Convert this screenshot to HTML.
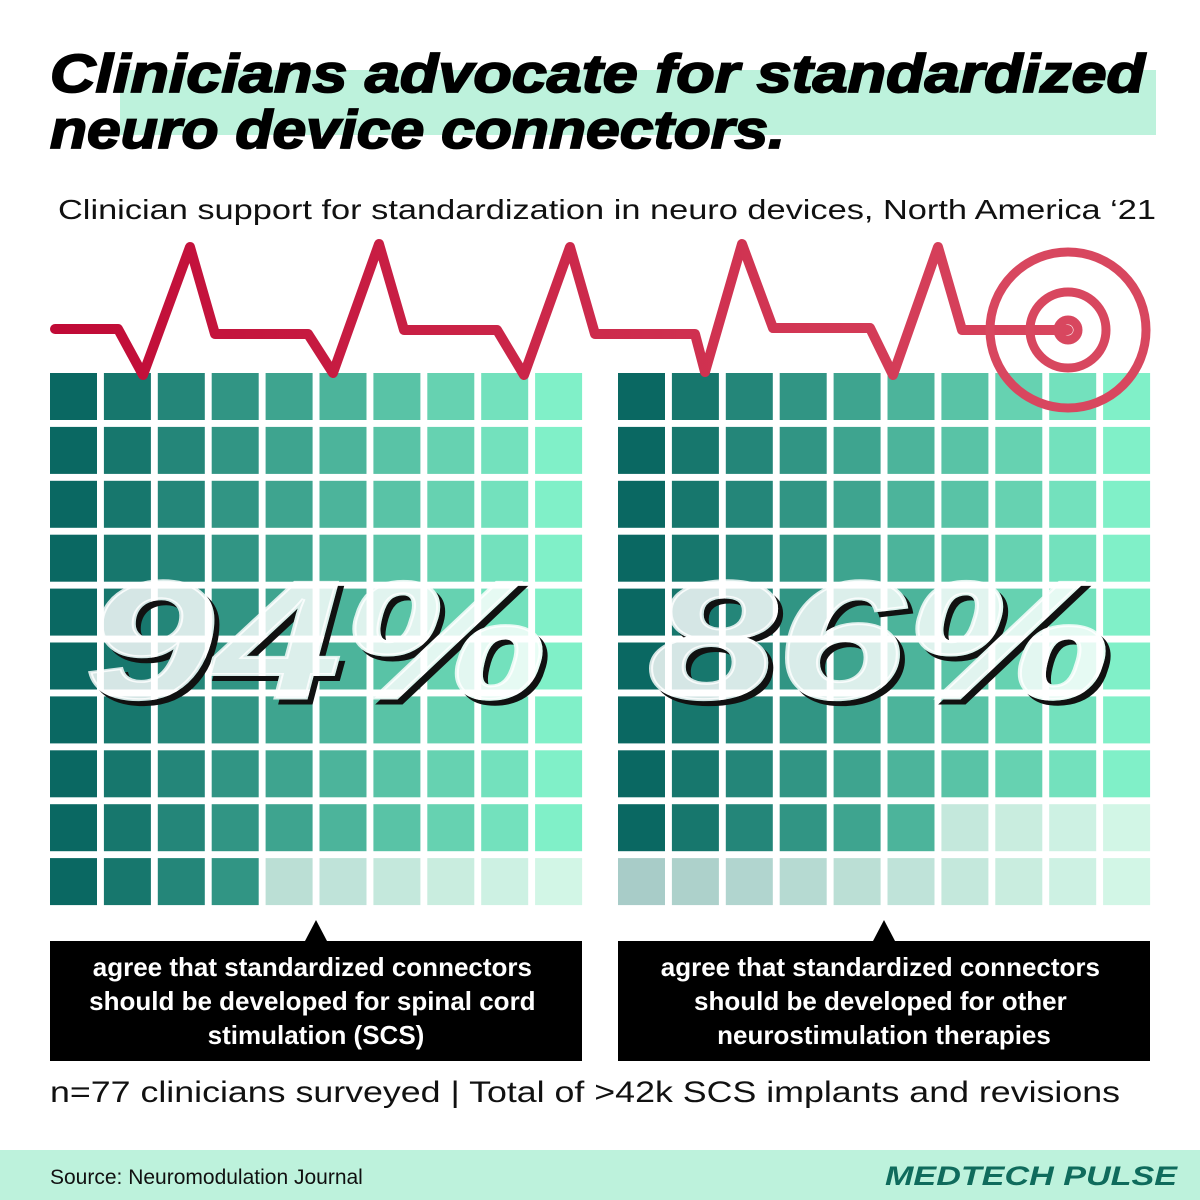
<!DOCTYPE html>
<html><head><meta charset="utf-8"><style>
html,body{margin:0;padding:0;background:#fff;}
svg{display:block;}
</style></head><body>
<svg id="chart" width="1200" height="1200" viewBox="0 0 1200 1200" xmlns="http://www.w3.org/2000/svg">
<defs>
<linearGradient id="ecg" x1="0" x2="1" y1="0" y2="0">
<stop offset="0" stop-color="#c00a36"/><stop offset="1" stop-color="#d8475f"/>
</linearGradient>
<mask id="m1"><rect x="0" y="0" width="1200" height="1200" fill="#fff"/>
<text x="85" y="698" font-family="Liberation Sans, sans-serif" font-weight="bold" font-style="italic" font-size="168" textLength="462" lengthAdjust="spacingAndGlyphs" fill="#000" stroke="#000" stroke-width="3">94%</text>
<text x="648" y="698" font-family="Liberation Sans, sans-serif" font-weight="bold" font-style="italic" font-size="168" textLength="462" lengthAdjust="spacingAndGlyphs" fill="#000" stroke="#000" stroke-width="3">86%</text>
</mask>
</defs>
<rect x="0" y="0" width="1200" height="1200" fill="#fff"/>
<rect x="120" y="70" width="1036" height="65" fill="#bdf2dc"/>
<text x="50" y="92" font-family="Liberation Sans, sans-serif" font-weight="bold" font-style="italic" font-size="54" textLength="1095" lengthAdjust="spacingAndGlyphs" fill="#000" stroke="#000" stroke-width="1.8">Clinicians advocate for standardized</text>
<text x="50" y="148" font-family="Liberation Sans, sans-serif" font-weight="bold" font-style="italic" font-size="54" textLength="735" lengthAdjust="spacingAndGlyphs" fill="#000" stroke="#000" stroke-width="1.8">neuro device connectors.</text>
<text x="58" y="219" font-family="Liberation Sans, sans-serif" font-size="28" textLength="1098" lengthAdjust="spacingAndGlyphs" fill="#111">Clinician support for standardization in neuro devices, North America ‘21</text>
<g id="grids"></g>
<polyline points="55,329 118,329 143,375 190,247 215,334 308,334 333,373 379,244 404,330 497,330 524,375 570,247 595,334 695,334 705,372 742,244 773,328 870,328 893,375 938,247 962,330 1068,330" fill="none" stroke="url(#ecg)" stroke-width="10" stroke-linejoin="round" stroke-linecap="round"/>
<g fill="none" stroke="#d8475f" stroke-width="9">
<circle cx="1068" cy="330" r="78"/><circle cx="1068" cy="330" r="38"/><circle cx="1068" cy="330" r="10"/>
</g>
<g mask="url(#m1)">
<text x="90" y="703" font-family="Liberation Sans, sans-serif" font-weight="bold" font-style="italic" font-size="168" textLength="462" lengthAdjust="spacingAndGlyphs" fill="#111" stroke="#111" stroke-width="3">94%</text>
<text x="653" y="703" font-family="Liberation Sans, sans-serif" font-weight="bold" font-style="italic" font-size="168" textLength="462" lengthAdjust="spacingAndGlyphs" fill="#111" stroke="#111" stroke-width="3">86%</text>
</g>
<text x="85" y="698" font-family="Liberation Sans, sans-serif" font-weight="bold" font-style="italic" font-size="168" textLength="462" lengthAdjust="spacingAndGlyphs" fill="#fff" fill-opacity="0.82" stroke="#fff" stroke-opacity="0.82" stroke-width="3">94%</text>
<text x="648" y="698" font-family="Liberation Sans, sans-serif" font-weight="bold" font-style="italic" font-size="168" textLength="462" lengthAdjust="spacingAndGlyphs" fill="#fff" fill-opacity="0.82" stroke="#fff" stroke-opacity="0.82" stroke-width="3">86%</text>
<g>
<polygon points="305,941 316,920 327,941" fill="#000"/>
<rect x="50" y="941" width="532" height="120" fill="#000"/>
<text fill="#fff" font-family="Liberation Sans, sans-serif" font-weight="bold" font-size="26" text-anchor="middle">
<tspan x="316" y="976">agree that standardized connectors</tspan>
<tspan x="316" y="1010">should be developed for spinal cord</tspan>
<tspan x="316" y="1044">stimulation (SCS)</tspan></text>
</g>
<g>
<polygon points="873,941 884,920 895,941" fill="#000"/>
<rect x="618" y="941" width="532" height="120" fill="#000"/>
<text fill="#fff" font-family="Liberation Sans, sans-serif" font-weight="bold" font-size="26" text-anchor="middle">
<tspan x="884" y="976">agree that standardized connectors</tspan>
<tspan x="884" y="1010">should be developed for other</tspan>
<tspan x="884" y="1044">neurostimulation therapies</tspan></text>
</g>
<text x="50" y="1102" font-family="Liberation Sans, sans-serif" font-size="30" textLength="1070" lengthAdjust="spacingAndGlyphs" fill="#111">n=77 clinicians surveyed | Total of &gt;42k SCS implants and revisions</text>
<rect x="0" y="1150" width="1200" height="50" fill="#bdf2dc"/>
<text x="50" y="1184" font-family="Liberation Sans, sans-serif" font-size="21" fill="#111">Source: Neuromodulation Journal</text>
<text x="1177" y="1185" text-anchor="end" font-family="Liberation Sans, sans-serif" font-weight="bold" font-style="italic" font-size="27" textLength="292" lengthAdjust="spacingAndGlyphs" fill="#0f6b5c">MEDTECH PULSE</text>
</svg>
<script>
const panelLabels = ["SCS", "Other neurostimulation"];
const panelPercents = [94, 86];
const panelX = [50, 618];
const gridTop = 373, pitchX = 53.9, pitchY = 53.9, cellW = 47, cellH = 47;
const darkC = [10,104,98], lightC = [128,240,200];
function colColor(c, faded){
  const t = c/9;
  let r = darkC[0]+(lightC[0]-darkC[0])*t, g = darkC[1]+(lightC[1]-darkC[1])*t, b = darkC[2]+(lightC[2]-darkC[2])*t;
  if(faded){ r = 168+(210-168)*t; g = 204+(246-204)*t; b = 200+(230-200)*t; }
  return `rgb(${Math.round(r)},${Math.round(g)},${Math.round(b)})`;
}
const grids = document.getElementById('grids');
const NS = 'http://www.w3.org/2000/svg';
panelPercents.forEach((pct, p) => {
  const g = document.createElementNS(NS, 'g');
  
  
  grids.appendChild(g);
  for (let r = 0; r < 10; r++) for (let c = 0; c < 10; c++) {
    const idx = r*10 + c;
    const filled = idx < pct;
    const rect = document.createElementNS(NS, 'rect');
    rect.setAttribute('x', panelX[p] + c*pitchX);
    rect.setAttribute('y', gridTop + r*pitchY);
    rect.setAttribute('width', cellW);
    rect.setAttribute('height', cellH);
    rect.setAttribute('fill', colColor(c, !filled));
    
    
    g.appendChild(rect);
  }
});
</script>
</body></html>
